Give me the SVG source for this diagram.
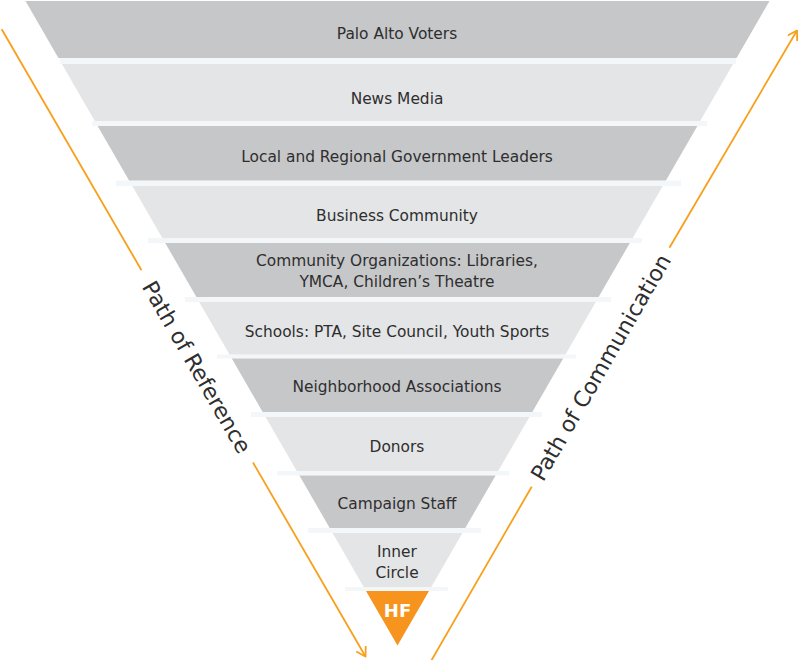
<svg xmlns="http://www.w3.org/2000/svg" width="800" height="660" viewBox="0 0 800 660">
<style>
.dark{fill:#c6c7c9}
.light{fill:#e4e5e6}
.strip{fill:#f3f7f9}
.lbl{font-family:"DejaVu Sans","Liberation Sans",sans-serif;font-size:15.4px;fill:#2e2e2e;text-anchor:middle}
.hf{font-family:"DejaVu Sans","Liberation Sans",sans-serif;font-size:18px;font-weight:bold;fill:#fff;text-anchor:middle}
.path{font-family:"DejaVu Sans","Liberation Sans",sans-serif;font-size:22px;fill:#2e2e2e;text-anchor:middle}
.arrow{fill:none;stroke:#f7a01b;stroke-width:1.8}
</style>
<defs>
<marker id="ah" viewBox="0 0 12 12" refX="11" refY="6" markerWidth="12" markerHeight="12" markerUnits="userSpaceOnUse" orient="auto">
<path d="M2,0.5 L11,6 L2,11.5" fill="none" stroke="#f7a01b" stroke-width="1.8"/>
</marker>
</defs>
<g id="strips">
<rect class="strip" x="60" y="58" width="676" height="6"/>
<rect class="strip" x="92" y="121" width="615" height="5"/>
<rect class="strip" x="116" y="180.5" width="565" height="5.5"/>
<rect class="strip" x="148" y="238" width="494" height="5"/>
<rect class="strip" x="185" y="297" width="426" height="5"/>
<rect class="strip" x="217" y="354.5" width="359" height="4"/>
<rect class="strip" x="251" y="412" width="291" height="5"/>
<rect class="strip" x="277" y="471" width="232" height="4.5"/>
<rect class="strip" x="308" y="528" width="173" height="5"/>
<rect class="strip" x="345" y="587" width="103" height="4"/>
</g>
<g id="voters">
<polygon class="dark" points="25.5,1 769.5,1 736.6,58 58.4,58"/>
<text class="lbl" x="397" y="39">Palo Alto Voters</text>
</g>
<g id="news-media">
<polygon class="light" points="61.9,64 733.1,64 700.2,121 94.8,121"/>
<text class="lbl" x="397" y="104">News Media</text>
</g>
<g id="government">
<polygon class="dark" points="97.6,126 697.4,126 665.9,180.5 129.1,180.5"/>
<text class="lbl" x="397" y="161.5">Local and Regional Government Leaders</text>
</g>
<g id="business">
<polygon class="light" points="132.3,186 662.7,186 632.7,238 162.3,238"/>
<text class="lbl" x="397" y="220.5">Business Community</text>
</g>
<g id="community-orgs">
<polygon class="dark" points="165.2,243 629.8,243 598.6,297 196.4,297"/>
<text class="lbl" x="397" y="265.5">Community Organizations: Libraries,</text>
<text class="lbl" x="397" y="286.5">YMCA, Children’s Theatre</text>
</g>
<g id="schools">
<polygon class="light" points="199.2,302 595.8,302 565.5,354.5 229.5,354.5"/>
<text class="lbl" x="397" y="336.5">Schools: PTA, Site Council, Youth Sports</text>
</g>
<g id="neighborhood">
<polygon class="dark" points="231.8,358.5 563.2,358.5 532.3,412 262.7,412"/>
<text class="lbl" x="397" y="392">Neighborhood Associations</text>
</g>
<g id="donors">
<polygon class="light" points="265.6,417 529.4,417 498.2,471 296.8,471"/>
<text class="lbl" x="397" y="452">Donors</text>
</g>
<g id="campaign-staff">
<polygon class="dark" points="299.4,475.5 495.6,475.5 465.3,528 329.7,528"/>
<text class="lbl" x="397" y="509">Campaign Staff</text>
</g>
<g id="inner-circle">
<polygon class="light" points="332.6,533 462.4,533 431.3,587 363.7,587"/>
<text class="lbl" x="397" y="556.5">Inner</text>
<text class="lbl" x="397" y="577.5">Circle</text>
</g>
<g id="hf">
<polygon fill="#f7941e" points="366,591 429,591 397.5,645.5"/>
<text class="hf" x="397.5" y="616.5">HF</text>
</g>
<g id="connectors">
<line class="arrow" x1="1.7" y1="29.3" x2="141.5" y2="270.3"/>
<line class="arrow" x1="253" y1="462.5" x2="365.5" y2="656.5" marker-end="url(#ah)"/>
<text class="path" transform="translate(197,367) rotate(60)" y="8">Path of Reference</text>
<line class="arrow" x1="430.5" y1="662" x2="531.7" y2="486.7"/>
<line class="arrow" x1="669.4" y1="247.7" x2="797" y2="30.5" marker-end="url(#ah)"/>
<text class="path" transform="translate(600.5,367.2) rotate(-60)" y="8">Path of Communication</text>
</g>
</svg>
